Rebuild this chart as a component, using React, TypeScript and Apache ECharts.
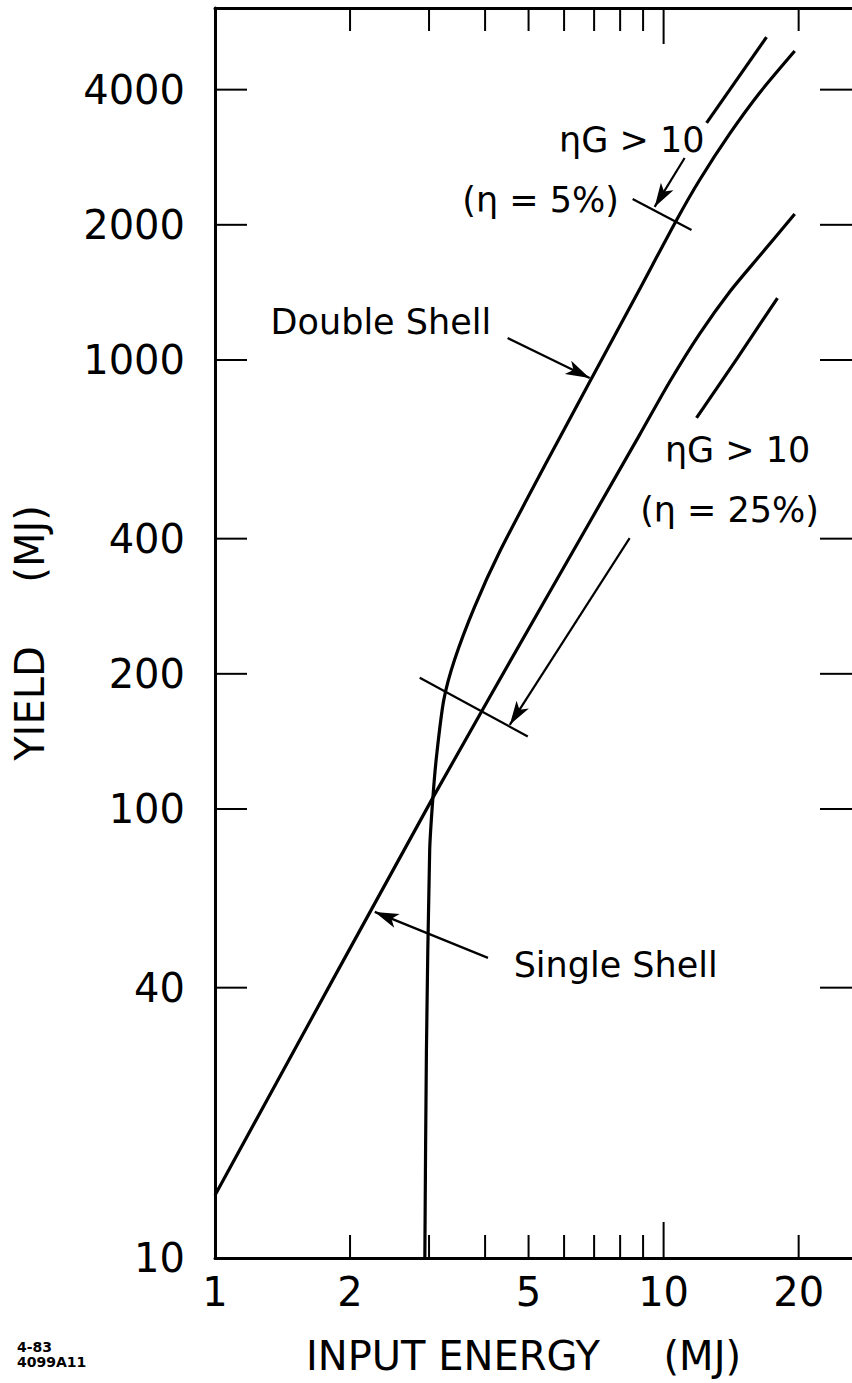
import React, { useEffect, useRef } from "react";
import * as echarts from "echarts";

// ---- axis ranges and ticks ----
const X_MIN = 1;
const X_MAX = 26.3;
const Y_MIN = 10;
const Y_MAX = 6080;
const xLabelValues = [1, 2, 5, 10, 20];
const yLabelValues = [10, 40, 100, 200, 400, 1000, 2000, 4000];
const xMinorTicks = [2, 3, 4, 5, 6, 7, 8, 9, 20];
const xMajorTicks = [10];
const yTicks = [40, 100, 200, 400, 1000, 2000, 4000];

// ---- curves (input energy MJ, yield MJ) ----
const singleShellX = [1, 3.06, 5.38, 8.84, 10.31, 12.03, 14.03, 16.36, 19.6];
const singleShellY = [13.8, 106, 286, 681, 893, 1143, 1417, 1704, 2114];
const doubleShellX = [2.936, 2.96, 3.01, 3.06, 3.12, 3.236, 3.42, 3.79, 4.31, 5.43, 6.84, 8.75, 10.69, 12.03, 14.03, 16.36, 19.6];
const doubleShellY = [10, 29, 81, 106, 132, 175, 215, 282, 374, 581, 893, 1410, 2051, 2517, 3187, 3932, 4875];
const upperShortX = [12.47, 16.96];
const upperShortY = [3373, 5236];
const rightShortX = [11.84, 14.6, 17.94];
const rightShortY = [743, 1010, 1374];

// ---- annotations (data coordinates) ----
const labelTexts = ["ηG > 10", "(η = 5%)", "ηG > 10", "(η = 25%)", "Double Shell", "Single Shell"];
const labelX = [8.49, 5.32, 14.62, 14.03, 2.343, 7.82];
const labelY = [3091, 2270, 630, 463, 1215, 44.9];
// arrows: [fromX, fromY, toX, toY]
const arrows = [
  [11.14, 2818, 9.55, 2192],
  [8.4, 401, 4.54, 154],
  [4.49, 1119, 6.84, 912],
  [4.06, 46.6, 2.27, 59.0],
];
// cross bars marking ηG > 10
const crossBars = [
  [8.53, 2284, 11.54, 1948],
  [2.86, 196, 4.98, 145],
];

const FONT = "DejaVu Sans";

function pairs(xs: number[], ys: number[]) {
  return xs.map((x, i) => [x, ys[i]]);
}

export default function App() {
  const ref = useRef<HTMLDivElement>(null);
  useEffect(() => {
    if (!ref.current) return;
    const chart = echarts.init(ref.current, undefined, { renderer: "svg" });

    // tick data: side 0 bottom, 1 top, 2 left, 3 right; kind 0 minor, 1 major, 2 y
    const tickData: number[][] = [];
    xMinorTicks.forEach((v) => {
      tickData.push([v, Y_MIN, 0, 0]);
      tickData.push([v, Y_MAX, 1, 0]);
    });
    xMajorTicks.forEach((v) => {
      tickData.push([v, Y_MIN, 0, 1]);
      tickData.push([v, Y_MAX, 1, 1]);
    });
    yTicks.forEach((v) => {
      tickData.push([X_MIN, v, 2, 2]);
      tickData.push([X_MAX, v, 3, 2]);
    });
    const tickLen = [23, 36, 32];

    const curveStyle = { color: "#000", width: 3.2 };
    const lineSeries = (name: string, data: number[][]) => ({
      type: "line",
      name,
      data,
      showSymbol: false,
      symbol: "none",
      smooth: 0.25,
      lineStyle: curveStyle,
      itemStyle: { color: "#000" },
      silent: true,
      z: 3,
    });

    const option: any = {
      animation: false,
      backgroundColor: "#fff",
      grid: { left: 215, right: 0, top: 8, bottom: 125, containLabel: false, outerBoundsMode: "none" },
      xAxis: [
        {
          type: "log",
          logBase: 10,
          min: X_MIN,
          max: X_MAX,
          position: "bottom",
          axisLine: { show: true, lineStyle: { color: "#000", width: 3 } },
          axisTick: { show: false },
          minorTick: { show: false },
          splitLine: { show: false },
          axisLabel: {
            show: true,
            customValues: xLabelValues,
            formatter: (v: number) => String(Math.round(v)),
            color: "#000",
            fontSize: 40,
            fontFamily: FONT,
            margin: 14,
          },
          name: "INPUT ENERGY     (MJ)",
          nameLocation: "middle",
          nameGap: 78,
          nameTextStyle: { color: "#000", fontSize: 40, fontFamily: FONT, padding: [0, 20, 0, 0] },
        },
        {
          type: "log",
          logBase: 10,
          min: X_MIN,
          max: X_MAX,
          position: "top",
          axisLine: { show: true, lineStyle: { color: "#000", width: 3 } },
          axisTick: { show: false },
          axisLabel: { show: false },
          splitLine: { show: false },
        },
      ],
      yAxis: [
        {
          type: "log",
          logBase: 10,
          min: Y_MIN,
          max: Y_MAX,
          position: "left",
          axisLine: { show: true, lineStyle: { color: "#000", width: 3 } },
          axisTick: { show: false },
          minorTick: { show: false },
          splitLine: { show: false },
          axisLabel: {
            show: true,
            customValues: yLabelValues,
            formatter: (v: number) => String(Math.round(v)),
            color: "#000",
            fontSize: 40,
            fontFamily: FONT,
            margin: 30,
          },
          name: "YIELD     (MJ)",
          nameLocation: "middle",
          nameGap: 165,
          nameRotate: 90,
          nameTextStyle: { color: "#000", fontSize: 40, fontFamily: FONT },
        },
        {
          type: "log",
          logBase: 10,
          min: Y_MIN,
          max: Y_MAX,
          position: "right",
          axisLine: { show: false },
          axisTick: { show: false },
          axisLabel: { show: false },
          splitLine: { show: false },
        },
      ],
      series: [
        lineSeries("Single Shell", pairs(singleShellX, singleShellY)),
        lineSeries("Double Shell", pairs(doubleShellX, doubleShellY)),
        lineSeries("upper", pairs(upperShortX, upperShortY)),
        lineSeries("right", pairs(rightShortX, rightShortY)),
        {
          type: "custom",
          name: "ticks",
          silent: true,
          clip: false,
          encode: { x: 0, y: 1 },
          data: tickData,
          renderItem: (params: any, api: any) => {
            const x = api.value(0);
            const y = api.value(1);
            const side = api.value(2);
            const len = tickLen[api.value(3)];
            const p = api.coord([x, y]);
            let x2 = p[0];
            let y2 = p[1];
            if (side === 0) y2 = p[1] - len;
            else if (side === 1) y2 = p[1] + len;
            else if (side === 2) x2 = p[0] + len;
            else x2 = p[0] - len;
            return {
              type: "line",
              shape: { x1: p[0], y1: p[1], x2, y2 },
              style: { stroke: "#000", lineWidth: 2 },
            };
          },
        },
        {
          type: "scatter",
          name: "labels",
          silent: true,
          symbolSize: 0,
          itemStyle: { color: "#000", opacity: 1 },
          data: labelTexts.map((t, i) => ({ name: t, value: [labelX[i], labelY[i]] })),
          label: {
            show: true,
            position: "inside",
            formatter: "{b}",
            color: "#000",
            textBorderWidth: 0,
            textShadowBlur: 0,
            fontSize: 35,
            fontFamily: FONT,
          },
          markLine: {
            silent: true,
            animation: false,
            label: { show: false },
            lineStyle: { color: "#000", width: 2.2, type: "solid", opacity: 1 },
            emphasis: { disabled: true },
            data: [
              ...arrows.map((a) => [
                { coord: [a[0], a[1]], symbol: "none" },
                { coord: [a[2], a[3]], symbol: "arrow", symbolSize: [11, 24] },
              ]),
              ...crossBars.map((c) => [
                { coord: [c[0], c[1]], symbol: "none" },
                { coord: [c[2], c[3]], symbol: "none" },
              ]),
            ],
          },
        },
      ],
      graphic: [
        {
          type: "text",
          left: 17,
          top: 1339,
          style: {
            text: "4-83\n4099A11",
            fontSize: 14,
            fontWeight: "bold",
            lineHeight: 15,
            fontFamily: FONT,
            fill: "#000",
          },
        },
      ],
    };
    chart.setOption(option);
    return () => chart.dispose();
  }, []);
  return (
    <div
      ref={ref}
      style={{ position: "absolute", left: 0, top: 0, width: 852, height: 1383, background: "#fff" }}
    />
  );
}
